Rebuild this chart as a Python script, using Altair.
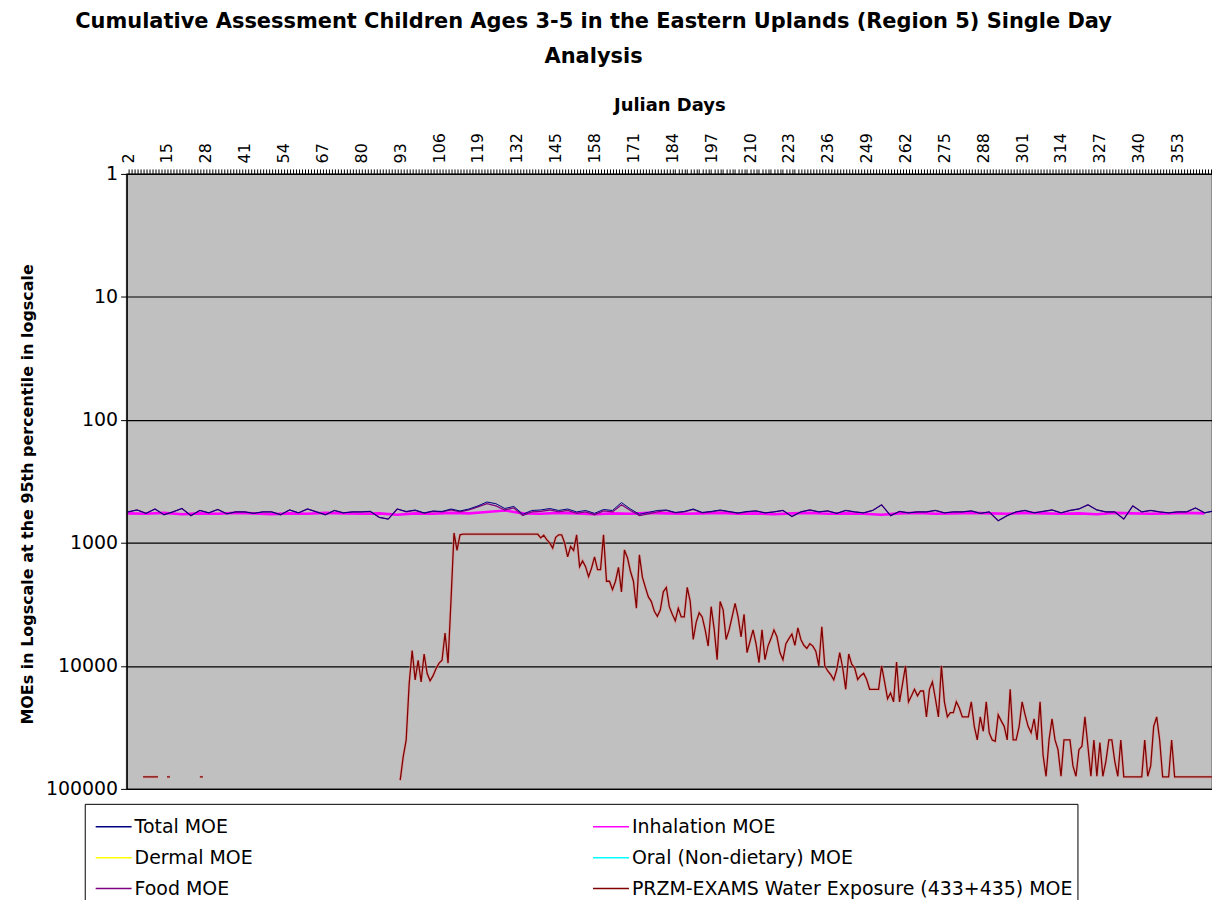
import altair as alt
import pandas as pd

# legend is filled column by column: first column Total/Dermal/Food, second Inhalation/Oral/Water
series_names = ["Total MOE", "Dermal MOE", "Food MOE", "Inhalation MOE",
                "Oral (Non-dietary) MOE", "PRZM-EXAMS Water Exposure (433+435) MOE"]
series_colors = ["#000080", "#FFFF00", "#800080", "#FF00FF", "#00FFFF", "#800000"]

x_label_days = [2, 15, 28, 41, 54, 67, 80, 93, 106, 119, 132, 145, 158, 171, 184, 197,
                210, 223, 236, 249, 262, 275, 288, 301, 314, 327, 340, 353]
y_ticks = [1, 10, 100, 1000, 10000, 100000]

# Food MOE, every 3rd day starting at day 2
food_days = list(range(2, 366, 3))
food_vals = [
    560, 540, 575, 530, 590, 560, 525, 600, 545, 570,
    535, 580, 560, 560, 575, 560, 560, 590, 540, 570,
    530, 560, 590, 545, 570, 560, 560, 555, 620, 640,
    530, 560, 545, 575, 555, 560, 540, 560, 540, 510,
    480, 500, 540, 520, 600, 560, 555, 540, 560, 545,
    575, 560, 590, 550, 560, 490, 545, 600, 580, 560,
    545, 570, 560, 535, 570, 560, 545, 560, 575, 560,
    550, 570, 560, 545, 610, 560, 540, 560, 550, 575,
    545, 560, 570, 545, 490, 600, 555, 570, 560, 560,
    545, 570, 560, 560, 550, 575, 560, 660, 600, 560,
    545, 570, 555, 540, 570, 545, 530, 490, 540, 560,
    560, 640, 500, 560, 545, 560, 570, 560, 560, 520,
    570, 550,
]
total_vals = [
    560, 540, 575, 530, 590, 560, 525, 600, 545, 570,
    535, 580, 560, 560, 575, 560, 560, 590, 540, 570,
    530, 560, 590, 545, 570, 560, 560, 555, 620, 640,
    530, 555, 540, 570, 550, 555, 530, 550, 530, 500,
    465, 480, 525, 505, 585, 545, 540, 525, 545, 530,
    560, 545, 575, 535, 545, 470, 530, 585, 565, 545,
    540, 565, 555, 530, 565, 555, 540, 555, 570, 555,
    550, 570, 560, 545, 610, 560, 540, 560, 550, 575,
    545, 560, 570, 545, 490, 600, 555, 570, 560, 560,
    545, 570, 560, 560, 550, 575, 560, 660, 600, 560,
    545, 570, 555, 540, 570, 545, 530, 490, 540, 560,
    560, 640, 500, 560, 545, 560, 570, 560, 560, 520,
    570, 550,
]
# Inhalation MOE, every 6th day starting at day 2
inh_days = list(range(2, 366, 6))
inh_vals = [
    575, 580, 570, 585, 575, 580, 570, 575, 585, 575,
    580, 570, 575, 580, 575, 590, 575, 580, 570, 575,
    560, 545, 575, 580, 570, 575, 585, 575, 580, 570,
    575, 580, 575, 570, 580, 575, 585, 575, 570, 580,
    575, 580, 590, 575, 570, 580, 575, 570, 575, 580,
    570, 575, 580, 575, 585, 570, 575, 580, 575, 570, 575,
]

# PRZM-EXAMS water exposure MOE
water_days = [
    7, 8, 9, 10, 11, 12, 15, 16, 26, 27,
    93, 94, 95, 96, 97, 98, 99, 100, 101, 102,
    103, 104, 105, 106, 107, 108, 109, 110, 111, 112,
    113, 114, 139, 140, 141, 142, 143, 144, 145, 146,
    147, 148, 149, 150, 151, 152, 153, 154, 155, 156,
    157, 158, 159, 160, 161, 162, 163, 164, 165, 166,
    167, 168, 169, 170, 171, 172, 173, 174, 175, 176,
    177, 178, 179, 180, 181, 182, 183, 184, 185, 186,
    187, 188, 189, 190, 191, 192, 193, 194, 195, 196,
    197, 198, 199, 200, 201, 202, 203, 204, 205, 206,
    207, 208, 209, 210, 211, 212, 213, 214, 215, 216,
    217, 218, 219, 220, 221, 222, 223, 224, 225, 226,
    227, 228, 229, 230, 231, 232, 233, 234, 235, 236,
    237, 238, 239, 240, 241, 242, 243, 244, 245, 246,
    247, 248, 249, 250, 253, 254, 255, 256, 257, 258,
    259, 260, 261, 262, 263, 264, 265, 266, 267, 268,
    269, 270, 271, 272, 273, 274, 275, 276, 277, 278,
    279, 280, 281, 283, 284, 285, 286, 287, 288, 289,
    290, 291, 292, 293, 294, 295, 296, 297, 298, 299,
    300, 301, 302, 303, 304, 305, 306, 307, 308, 309,
    310, 311, 312, 313, 314, 315, 317, 318, 319, 320,
    321, 322, 323, 324, 325, 326, 327, 328, 329, 330,
    331, 332, 333, 334, 335, 341, 342, 343, 344, 345,
    346, 347, 348, 350, 351, 352, 365,
]
water_vals = [
    80000, 80000, 80000, 80000, 80000, 80000, 80000, 80000, 80000, 80000,
    85000, 55000, 40000, 14000, 7500, 13000, 9000, 13500, 8000, 11500,
    13200, 12000, 10500, 9500, 9000, 5400, 9500, 2900, 830, 1150,
    860, 850, 850, 910, 865, 940, 1000, 1100, 900, 860,
    860, 1000, 1300, 1070, 1150, 860, 1560, 1400, 1560, 1880,
    1600, 1300, 1650, 1650, 860, 2050, 2050, 2400, 2050, 1580,
    2500, 1140, 1320, 1700, 2050, 3400, 1250, 1900, 2300, 2750,
    3000, 3600, 3950, 3500, 2500, 2300, 3300, 3800, 4300, 3400,
    4000, 4000, 2300, 3000, 6100, 4400, 3700, 4000, 5100, 6900,
    3300, 5000, 8900, 3000, 3500, 6100, 5100, 4000, 3100, 4000,
    5800, 3800, 7800, 6300, 5100, 6600, 9400, 5100, 8900, 6900,
    6000, 5100, 5800, 7800, 8900, 6600, 6000, 5500, 6800, 4900,
    6100, 6800, 7200, 6600, 6900, 7600, 10000, 4800, 10000, 11000,
    11800, 13000, 10700, 7800, 10400, 15500, 8000, 9700, 10400, 12900,
    12000, 11500, 12900, 15500, 15500, 10000, 13500, 18500, 16600, 19600,
    9300, 19600, 14000, 10000, 19600, 17500, 15500, 17500, 16000, 16000,
    26000, 15500, 13500, 18500, 26000, 10000, 19600, 26000, 24000, 24000,
    19600, 22000, 26000, 26000, 19600, 31000, 40000, 26000, 34000, 19600,
    35000, 40000, 41000, 25000, 28000, 31000, 40000, 15500, 40000, 40000,
    31000, 19600, 25000, 31000, 35000, 27000, 40000, 19600, 53000, 79000,
    40000, 27000, 40000, 48000, 79000, 40000, 40000, 65000, 79000, 48000,
    45000, 26000, 45000, 79000, 40000, 79000, 42000, 79000, 60000, 40000,
    40000, 60000, 79000, 40000, 80000, 80000, 40000, 79000, 65000, 31000,
    26000, 40000, 80000, 80000, 40000, 80000, 80000,
]

# split water series into runs of consecutive days before day 93 (gaps in the data)
water_seg = []
seg = 0
for i, d in enumerate(water_days):
    if i > 0 and d < 94 and d - water_days[i - 1] > 1:
        seg += 1
    water_seg.append(seg)

df_food = pd.DataFrame({"day": food_days, "value": food_vals, "series": "Food MOE"})
df_total = pd.DataFrame({"day": food_days, "value": total_vals, "series": "Total MOE"})
df_inh = pd.DataFrame({"day": inh_days, "value": inh_vals, "series": "Inhalation MOE"})
df_water = pd.DataFrame({"day": water_days, "value": water_vals, "seg": water_seg,
                         "series": "PRZM-EXAMS Water Exposure (433+435) MOE"})

FONT = "DejaVu Sans"

x_enc = alt.X(
    "day:Q",
    scale=alt.Scale(domain=[1.5, 364.5], nice=False, zero=False),
    axis=alt.Axis(
        orient="top", values=list(range(2, 365)),
        labelExpr="indexof(" + str(x_label_days) + ", datum.value) >= 0 ? datum.label : ''",
        labelOverlap=False, labelAngle=270, labelAlign="left", labelBaseline="middle",
        labelFont=FONT, labelFontSize=16, labelColor="black", labelPadding=6,
        tickSize=5, tickColor="black", tickWidth=1, domainColor="black", grid=False,
        title="Julian Days", titleFont=FONT, titleFontSize=18, titleFontWeight="bold",
        titleColor="black", titlePadding=18,
    ),
)
y_enc = alt.Y(
    "value:Q",
    scale=alt.Scale(type="log", domain=[1, 100000], reverse=True, nice=False),
    axis=alt.Axis(
        values=y_ticks, format="d", grid=True, gridColor="black", gridOpacity=1, gridWidth=1.2,
        labelFont=FONT, labelFontSize=19, labelColor="black", labelPadding=3,
        tickSize=6, tickColor="black", domainColor="black", domainWidth=1.5,
        title="MOEs in Logscale at the 95th percentile in logscale",
        titleFont=FONT, titleFontSize=16, titleFontWeight="bold", titleColor="black",
        titlePadding=10, titleY=321,
    ),
)
color_enc = alt.Color(
    "series:N",
    scale=alt.Scale(domain=series_names, range=series_colors),
    legend=alt.Legend(
        orient="none", legendX=-42, legendY=632, columns=2, columnPadding=334,
        title=None, symbolType="stroke", symbolSize=1300, symbolStrokeWidth=1.5,
        symbolOffset=6,
        labelFont=FONT, labelFontSize=19, labelColor="black", labelOffset=2,
        rowPadding=2, padding=4, strokeColor="black", fillColor="white",
        labelLimit=700,
    ),
)

def layer(df, width, detail=None):
    enc = dict(x=x_enc, y=y_enc, color=color_enc)
    if detail:
        enc["detail"] = detail
    return alt.Chart(df).mark_line(strokeWidth=width, clip=True).encode(**enc)

water_halo = alt.Chart(df_water).mark_line(
    strokeWidth=3, color="#E09090", opacity=0.55, clip=True
).encode(x=x_enc, y=y_enc, detail="seg:N")

chart = alt.layer(
    layer(df_inh, 2.6),
    layer(df_food, 1.3),
    layer(df_total, 1.0),
    water_halo,
    layer(df_water, 1.3, detail="seg:N"),
).properties(
    width=1089,
    height=617,
    autosize=alt.AutoSizeParams(type="none"),
    padding={"left": 119, "top": 165, "right": 0, "bottom": 110},
    title=alt.TitleParams(
        text=["Cumulative Assessment Children Ages 3-5 in the Eastern Uplands (Region 5) Single Day",
              "Analysis"],
        font=FONT, fontSize=21, fontWeight="bold", color="black",
        anchor="middle", dx=-76, offset=30, lineHeight=35,
    ),
).configure(
    background="white",
).configure_view(
    fill="#C0C0C0", stroke="#808080", strokeWidth=1.5,
)

chart.save("out.html", embed_options={"renderer": "svg", "actions": False})
